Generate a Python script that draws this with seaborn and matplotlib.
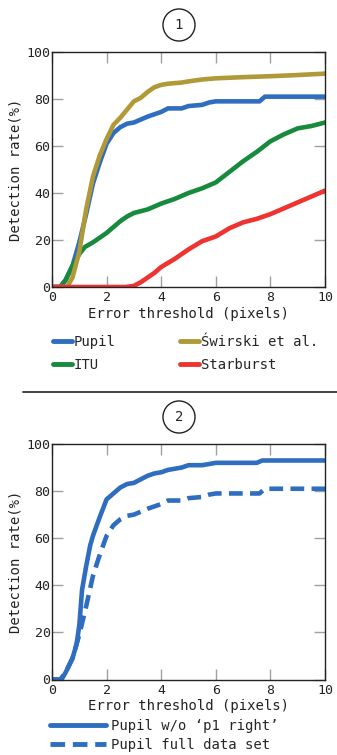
import matplotlib
matplotlib.use("Agg")
import matplotlib.pyplot as plt
from matplotlib.lines import Line2D
import pandas as pd
import seaborn as sns

# ---- panel 1: detection rate vs error threshold ----
x_pupil = [0, 0.3, 0.5, 0.75, 1.0, 1.25, 1.5, 1.75, 2.0, 2.25, 2.5, 2.75, 3.0, 3.5,
           4.0, 4.25, 4.75, 5.0, 5.5, 5.75, 6.0, 7.6, 7.8, 10]
y_pupil = [0, 0, 3, 9, 19, 31, 44, 53, 61, 65.5, 68, 69.5, 70, 72.5,
           74.5, 76, 76, 77, 77.5, 78.5, 79, 79, 81, 81]

x_swirski = [0, 0.55, 0.75, 1.0, 1.25, 1.5, 1.75, 2.0, 2.25, 2.5, 2.75, 3.0, 3.25,
             3.5, 3.75, 4.0, 4.25, 4.75, 5.0, 5.5, 6.0, 7.0, 8.0, 9.0, 10]
y_swirski = [0, 0, 4, 15, 33, 47, 56, 63, 69, 72, 75.5, 79, 80.5,
             83, 85, 86, 86.5, 87, 87.5, 88.3, 88.8, 89.3, 89.7, 90.2, 90.8]

x_itu = [0, 0.3, 0.5, 0.75, 1.0, 1.2, 1.5, 1.75, 2.0, 2.25, 2.5, 2.75, 3.0, 3.5,
         4.0, 4.5, 5.0, 5.5, 6.0, 6.5, 7.0, 7.5, 8.0, 8.5, 9.0, 9.5, 10]
y_itu = [0, 0, 3, 9, 14, 17, 19, 21, 23, 25.5, 28, 30, 31.5, 33,
         35.5, 37.5, 40, 42, 44.5, 49, 53.5, 57.5, 62, 65, 67.5, 68.5, 70]

x_starburst = [0, 2.7, 3.0, 3.25, 3.5, 3.75, 4.0, 4.5, 5.0, 5.5, 6.0, 6.5, 7.0,
               7.5, 8.0, 8.5, 9.0, 9.5, 10]
y_starburst = [0, 0, 0.5, 2, 4, 6, 8.5, 12, 16, 19.5, 21.5, 25, 27.5,
               29, 31, 33.5, 36, 38.5, 41]

# ---- panel 2: pupil with / without 'p1 right' ----
x_wo_p1 = [0, 0.35, 0.5, 0.75, 0.9, 1.0, 1.1, 1.25, 1.4, 1.5, 1.75, 2.0, 2.25, 2.5,
           2.75, 3.0, 3.25, 3.5, 3.75, 4.0, 4.25, 4.5, 4.75, 5.0, 5.5, 6.0, 7.5,
           7.7, 10]
y_wo_p1 = [0, 0, 3, 9, 15, 23, 38, 48, 57, 61, 69, 76.5, 79, 81.5,
           83, 83.5, 85, 86.5, 87.5, 88, 89, 89.5, 90, 91, 91, 92, 92,
           93, 93]

x_full = x_pupil
y_full = y_pupil

methods = ["Pupil", "ITU", "Świrski et al.", "Starburst"]
colors = ["#2e6dbf", "#178a3e", "#b09a38", "#ee3330"]
variants = ["Pupil w/o \u2018p1 right\u2019", "Pupil full data set"]

sns.set_style("ticks")
plt.rcParams["font.family"] = ["DejaVu Sans Mono", "DejaVu Sans"]


def long_df(xs, ys, names):
    parts = []
    for x, y, n in zip(xs, ys, names):
        parts.append(pd.DataFrame({"threshold": x, "rate": y, "method": n}))
    return pd.concat(parts, ignore_index=True)


def style_axes(ax):
    ax.set_xlim(0, 10)
    ax.set_ylim(0, 100)
    ax.set_xticks([0, 2, 4, 6, 8, 10])
    ax.set_yticks([0, 20, 40, 60, 80, 100])
    ax.tick_params(direction="in", length=8, width=1, color="#a0a0a0",
                   top=True, right=True, labelsize=9.5, labelcolor="#222222")
    ax.tick_params(axis="y", pad=1)
    ax.tick_params(axis="x", pad=3)
    for s in ax.spines.values():
        s.set_color("#222222")
        s.set_linewidth(1)
    ax.set_xlabel("Error threshold (pixels)", fontsize=10, labelpad=2, color="#222222")
    ax.set_ylabel("Detection rate(%)", fontsize=10, labelpad=3, color="#222222")


W, H = 337, 755
fig = plt.figure(figsize=(W / 100, H / 100), dpi=100)

# panel 1
ax1 = fig.add_axes([52 / W, 1 - 287 / H, 273 / W, 235 / H])
df1 = long_df([x_pupil, x_itu, x_swirski, x_starburst],
              [y_pupil, y_itu, y_swirski, y_starburst], methods)
sns.lineplot(data=df1, x="threshold", y="rate", hue="method", hue_order=methods,
             palette=colors, linewidth=3.3, sort=False, legend=False, ax=ax1)
style_axes(ax1)
handles1 = [Line2D([], [], color=c, lw=3.5) for c in colors]
fig.legend(handles1, methods, ncol=2, loc="upper left", bbox_to_anchor=(40 / W, 1 - 322 / H),
           frameon=False, fontsize=10, handlelength=1.4, handletextpad=0.15,
           columnspacing=4.6, labelspacing=0.65)

# panel 2
ax2 = fig.add_axes([52 / W, 1 - 679.5 / H, 273 / W, 235.5 / H])
df2 = long_df([x_wo_p1, x_full], [y_wo_p1, y_full], variants)
sns.lineplot(data=df2, x="threshold", y="rate", hue="method", hue_order=variants,
             palette=[colors[0], colors[0]], style="method", style_order=variants,
             dashes={variants[0]: "", variants[1]: (3, 1.6)}, linewidth=3.3,
             sort=False, legend=False, ax=ax2)
style_axes(ax2)
handles2 = [Line2D([], [], color=colors[0], lw=3.5),
            Line2D([], [], color=colors[0], lw=3.5, dashes=(3, 1.6))]
fig.legend(handles2, variants, loc="upper left", bbox_to_anchor=(42 / W, 1 - 711 / H),
           frameon=False, fontsize=10, handlelength=4.0, handletextpad=0.4,
           labelspacing=0.35, borderaxespad=0.2)

# panel markers and separator
for label, yc in [("1", 25), ("2", 417)]:
    fig.text(179 / W, 1 - yc / H, label, ha="center", va="center", fontsize=10,
             bbox=dict(boxstyle="circle,pad=0.65", fc="white", ec="#222222", lw=1))
fig.add_artist(Line2D([23 / W, 1], [1 - 391.5 / H, 1 - 391.5 / H],
                      color="#333333", lw=1.3, transform=fig.transFigure))

fig.savefig("out.png", dpi=100)
